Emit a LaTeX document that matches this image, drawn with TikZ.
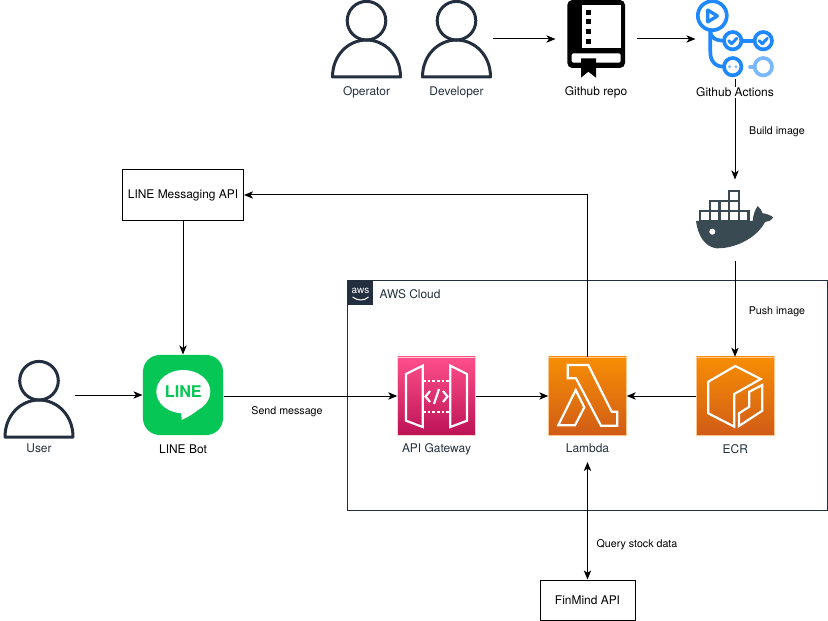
\documentclass[tikz,border=0pt]{standalone}
\usepackage{fontspec}
\setmainfont{TeX Gyre Heros}
\usetikzlibrary{arrows.meta}
\definecolor{awsdark}{HTML}{232F3E}
\definecolor{linegreen}{HTML}{06C755}
\definecolor{ghblue}{HTML}{2088FF}
\definecolor{ghfaint}{HTML}{79B8FF}
\definecolor{dockerdark}{HTML}{394A52}
\definecolor{apitop}{HTML}{FF4F8B}
\definecolor{apibot}{HTML}{BC1356}
\definecolor{orangetop}{HTML}{F78E04}
\definecolor{orangebot}{HTML}{D05C17}
\tikzset{
  >={Stealth[length=2.7mm,width=2.2mm,inset=0.7mm]},
  iconbox/.style={minimum size=2.4cm, inner sep=0pt},
  awsbox/.style={minimum size=2.34cm, inner sep=0pt, line width=0.4pt},
  apibox/.style={awsbox, draw=pink!70!white, top color=apitop, bottom color=apibot},
  orangebox/.style={awsbox, draw=orange!45!white, top color=orangetop, bottom color=orangebot},
  glyph/.style={draw=white, line width=0.065cm, line join=miter},
  plainbox/.style={draw, inner sep=0pt, font=\fontsize{10.2}{12}\selectfont},
  iconlabel/.style={inner sep=1pt, font=\fontsize{10.2}{12}\selectfont},
  edgelabel/.style={inner sep=0pt, font=\fontsize{9.1}{11}\selectfont},
  person/.pic={
    \draw[awsdark, line width=0.09cm] (0,-18.3) circle (19.3);
    \draw[awsdark, line width=0.09cm, line join=round] (-34,38) .. controls (-34,16) and (-18,1) .. (0,1)
      .. controls (18,1) and (34,16) .. (34,38) -- cycle;
  }
}
\begin{document}
\begin{tikzpicture}[x=0.03cm, y=-0.03cm, line width=0.03cm]
\useasboundingbox (0,0) rectangle (828,621);

% cloud
\node[draw=awsdark, minimum width=14.37cm, minimum height=6.87cm, inner sep=0pt] (cloud) at (587.5,395.5) {};
\node[fill=awsdark, minimum width=0.75cm, minimum height=0.73cm, inner sep=0pt] (awslogo) at (360.5,293) {};
\node[white, inner sep=0pt, font=\fontsize{8.5}{9}\selectfont] (awstext) at (360.5,290.5) {aws};
\draw[white, line width=0.03cm] (352.5,297) .. controls (358,301) and (364,301) .. (368.5,297);
\node[iconlabel, anchor=west, text=awsdark] (cloudlabel) at (378,294.5) {AWS Cloud};

% people
\node[iconbox, minimum width=2.13cm] (operator) at (366.5,39) {};
\node[iconbox, minimum width=2.13cm] (developer) at (456.5,39) {};
\node[iconbox, minimum width=2.13cm] (user) at (39,399) {};
\pic at (operator) {person};
\pic at (developer) {person};
\pic at (user) {person};

% github repo
\node[iconbox] (repo) at (596,39) {};
\fill[black, rounded corners=0.15cm] (567.3,0) rectangle (625,68);
\fill[white] (581.7,5) rectangle (620.7,48.3);
\fill[white, rounded corners=0.06cm] (571.7,53.3) rectangle (620.7,62.7);
\foreach \y in {10,19.3,29,39} {
  \fill[black] (586,\y) rectangle (590.7,\y+4.7);
}
\fill[black] (581,58.3) -- (596,58.3) -- (596,77.7) -- (588.3,71.7) -- (581,77.7) -- cycle;

% github actions
\node[iconbox, minimum width=2.34cm] (actions) at (735,39) {};
\draw[ghblue, line width=0.11cm] (712.3,15.7) circle (14.5);
\draw[ghblue, line width=0.1cm, line join=round] (707.7,10) -- (707.7,22) -- (717.3,16) -- cycle;
\draw[ghblue, line width=0.11cm, line cap=round] (710.3,31) -- (710.3,52) .. controls (710.3,61) and (715,66.7) .. (724,66.7);
\draw[ghblue, line width=0.11cm, line cap=round] (710.3,31) .. controls (710.3,37) and (715,40.7) .. (724,40.7);
\draw[ghblue, line width=0.11cm] (741.4,40.7) -- (754.6,40.7);
\foreach \x in {732.7,763.3} {
  \draw[ghblue, line width=0.11cm] (\x,40.7) circle (8.7);
  \draw[ghblue, line width=0.09cm, line cap=round, line join=round] (\x-4,40.7) -- (\x-1,43.7) -- (\x+4,38.3);
}
\draw[ghblue, line width=0.11cm] (732.7,66.7) circle (8.7);
\fill[ghfaint] (729.5,66.7) circle (1.6) (736,66.7) circle (1.6);
\draw[ghfaint, line width=0.11cm] (763.3,66.7) circle (8.7);
\draw[ghfaint, line width=0.11cm, line cap=round] (750,66.7) -- (754.6,66.7);

% docker
\node[iconbox] (docker) at (735,220) {};
\foreach \x in {0,...,4} {
  \draw[dockerdark, line width=0.07cm] (700+9.7*\x,210.7) rectangle +(9.7,10);
}
\foreach \x in {1,2,3} {
  \draw[dockerdark, line width=0.07cm] (700+9.7*\x,200.7) rectangle +(9.7,10);
}
\draw[dockerdark, line width=0.07cm] (729.1,191) rectangle +(9.7,9.7);
\fill[dockerdark] (696,221) -- (752.7,221) .. controls (753,215) and (755,210) .. (757.7,206)
  .. controls (760,208) and (762,211) .. (762.7,213.3) .. controls (766,213.5) and (770,215) .. (773.3,217.3)
  .. controls (771,220.5) and (768,222) .. (765,222) .. controls (758,236) and (738,248.5) .. (716.7,248.3)
  .. controls (705,247) and (698,236) .. (696,221) -- cycle;
\fill[white] (712.3,231.7) circle (3);

% line bot
\node[iconbox, fill=linegreen, rounded corners=0.5cm] (linebot) at (183,395) {};
\fill[white] (183.3,391.7) ellipse (27 and 21.7);
\fill[white] (181,410) -- (181.7,420) .. controls (188,417) and (195,413) .. (200,408) -- cycle;
\node[text=linegreen, inner sep=0pt, font=\fontsize{13.8}{14}\selectfont\bfseries] (linetext) at (183.3,391.7) {LINE};

% aws services
\node[apibox] (apigw) at (436.5,396) {};
\draw[glyph] (406,374) -- (422.7,365.7) -- (422.7,427) -- (406,420.7) -- cycle;
\draw[glyph] (450.3,365.7) -- (467,374) -- (467,420.7) -- (450.3,427) -- cycle;
\draw[glyph, dash pattern=on 0.08cm off 0.06cm] (423,381) -- (450,381);
\draw[glyph, dash pattern=on 0.08cm off 0.06cm] (423,412) -- (450,412);
\draw[glyph] (430,391) -- (425.5,396.5) -- (430,402);
\draw[glyph] (443,391) -- (447.5,396.5) -- (443,402);
\draw[glyph] (434,404) -- (439,389);

\node[orangebox] (lambda) at (587.5,396) {};
\draw[glyph] (567.7,365) -- (588.3,365) -- (611.7,411.7) -- (617.3,411.7) -- (617.3,425.7) -- (601,425.7) -- (576,378.3) -- (567.7,378.3) -- cycle;
\draw[glyph] (575.7,390) -- (584.3,407.3) -- (575,425.3) -- (558.3,425.3) -- cycle;

\node[orangebox] (ecr) at (735.3,396) {};
\draw[glyph] (735.3,366) -- (760.7,379) -- (734.3,394) -- (734.3,426.7) -- (708.3,413.3) -- (708.3,381.7) -- cycle;
\draw[glyph] (762.3,385) -- (762.3,410.7) -- (739,426) -- (739,413.3) -- (749.3,406.7) -- (749.3,391.7) -- cycle;

% plain boxes
\node[plainbox, minimum width=3.63cm, minimum height=1.5cm] (msgapi) at (183,195) {LINE Messaging API};
\node[plainbox, minimum width=2.85cm, minimum height=1.2cm] (finmind) at (587.5,600) {FinMind API};
\coordinate (lambdaout) at (587.5,462);

% connectors
\draw[->] (developer) -- (repo);
\draw[->] (repo) -- (actions);
\draw[->] (actions) -- (docker.north);
\draw[->] (docker) -- (docker |- ecr.north);
\draw[->] (ecr) -- (lambda);
\draw[->] (apigw) -- (lambda);
\draw[->] (linebot.east |- apigw.west) -- (apigw.west);
\draw[->] (user.east |- linebot.west) -- (linebot.west);
\draw[->] (msgapi) -- (linebot);
\draw[->] (lambda.north) |- (msgapi.east);
\draw[<->] (lambdaout) -- (finmind.north);

% labels
\node[iconlabel, text=awsdark] (operatorlabel) at (366.5,92.5) {Operator};
\node[iconlabel, text=awsdark] (developerlabel) at (456.5,92.5) {Developer};
\node[iconlabel] (repolabel) at (596,92.5) {Github repo};
\node[iconlabel, fill=white] (actionslabel) at (735,92.5) {Github Actions};
\node[iconlabel, text=awsdark] (userlabel) at (39,448.5) {User};
\node[iconlabel] (linebotlabel) at (183,449.5) {LINE Bot};
\node[iconlabel, text=awsdark] (apigwlabel) at (436.5,449.5) {API Gateway};
\node[iconlabel, text=awsdark] (lambdalabel) at (587.5,448.5) {Lambda};
\node[iconlabel, text=awsdark] (ecrlabel) at (735.3,449.5) {ECR};
\node[edgelabel] (buildlabel) at (777,131.5) {Build image};
\node[edgelabel] (pushlabel) at (777,311.5) {Push image};
\node[edgelabel] (sendlabel) at (287,411.5) {Send message};
\node[edgelabel] (querylabel) at (637,544.5) {Query stock data};
\end{tikzpicture}
\end{document}
